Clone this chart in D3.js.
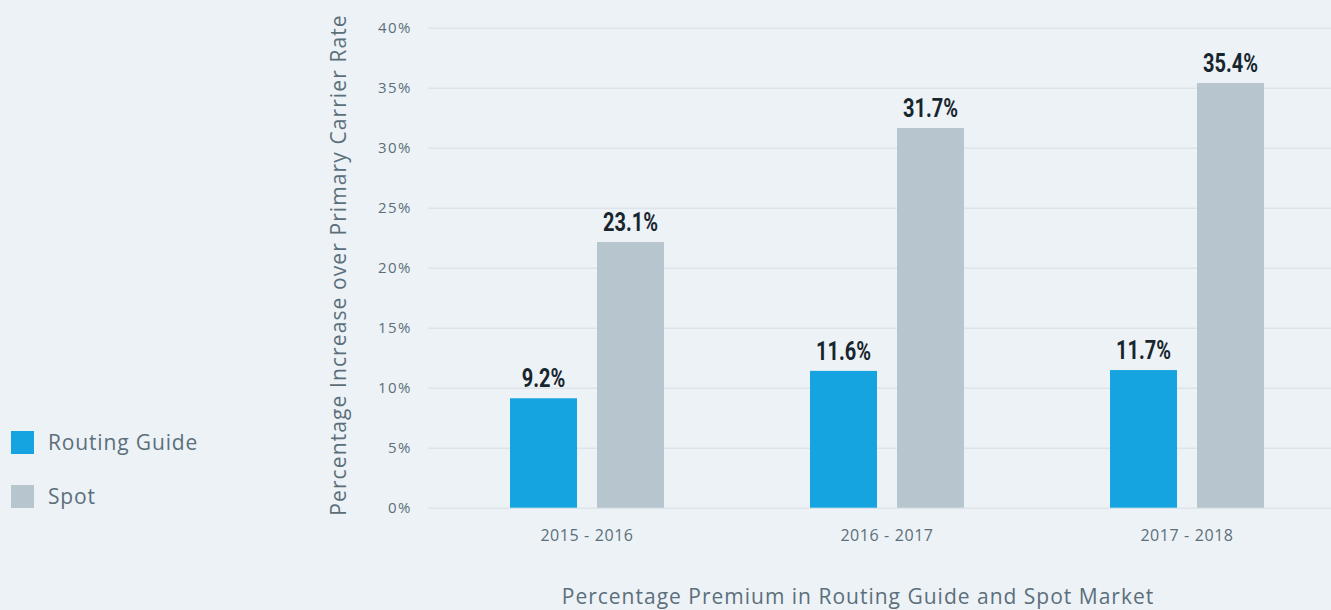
<!DOCTYPE html>
<html>
<head>
<meta charset="utf-8">
<script src="https://cdn.jsdelivr.net/npm/d3@7"></script>
<style>
  body { margin: 0; background: #edf2f6; }
  svg { display: block; }
  text { font-family: "Open Sans", "Noto Sans", sans-serif; fill: #5b6f7b; }
</style>
</head>
<body>
<div id="chart"></div>
<script>
// data
const periods = ["2015 - 2016", "2016 - 2017", "2017 - 2018"]
const seriesNames = ["Routing Guide", "Spot"]
const routingValues = [9.12, 11.4, 11.47]
const spotValues = [22.14, 31.64, 35.39]
const routingLabels = ["9.2%", "11.6%", "11.7%"]
const spotLabels = ["23.1%", "31.7%", "35.4%"]
const yTicks = [0, 5, 10, 15, 20, 25, 30, 35, 40]

const colors = { "Routing Guide": "#16a4e0", "Spot": "#b7c5ce" }

const width = 1331
const height = 610

var svg = d3.select("#chart").append("svg")
    .attr("width", width)
    .attr("height", height)

var y = d3.scaleLinear().domain([0, 40]).range([507.7, 27.7])
var x0 = d3.scaleBand().domain(periods).range([437, 1337]).padding(0)
var x1 = d3.scaleBand().domain(seriesNames).range([0, 154]).paddingInner(0.23)

// grid + y ticks
var yAxis = svg.append("g")
    .attr("transform", "translate(428,0)")
    .call(d3.axisLeft(y).tickValues(yTicks).tickSize(-(width - 428)).tickPadding(16)
        .tickFormat(d => d + "%"))
yAxis.select(".domain").remove()
yAxis.selectAll(".tick line").attr("stroke", "#d5dde3").attr("stroke-width", 1)
yAxis.selectAll(".tick text")
    .style("font-size", "15px")
    .style("font-family", "'Open Sans', sans-serif")
    .style("letter-spacing", "1.5px")
    .attr("fill", "#5b6f7b")

// bars
let rows = periods.map((p, i) => ({
    period: p,
    items: [
        { name: "Routing Guide", value: routingValues[i], label: routingLabels[i] },
        { name: "Spot", value: spotValues[i], label: spotLabels[i] }
    ]
}))

var groups = svg.selectAll(".grp")
    .data(rows)
    .enter().append("g")
    .attr("class", "grp")
    .attr("transform", d => "translate(" + (x0(d.period) + (x0.bandwidth() - 154) / 2) + ",0)")

groups.selectAll("rect")
    .data(d => d.items)
    .enter().append("rect")
    .attr("x", d => x1(d.name))
    .attr("y", d => y(d.value))
    .attr("width", x1.bandwidth())
    .attr("height", d => y(0) - y(d.value))
    .attr("fill", d => colors[d.name])

// condensed bold value labels (squeezed horizontally)
groups.selectAll(".val")
    .data(d => d.items)
    .enter().append("text")
    .attr("class", "val")
    .attr("transform", d => "translate(" + (x1(d.name) + x1.bandwidth() / 2) + "," + (y(d.value) - 11) + ") scale(0.8,1)")
    .attr("text-anchor", "middle")
    .style("font-family", "Roboto, sans-serif")
    .style("font-weight", "bold")
    .style("font-size", "25px")
    .style("fill", "#17262e")
    .text(d => d.label)

// category labels
svg.selectAll(".cat")
    .data(periods)
    .enter().append("text")
    .attr("class", "cat")
    .attr("x", d => x0(d) + x0.bandwidth() / 2)
    .attr("y", 541)
    .attr("text-anchor", "middle")
    .style("font-size", "16px")
    .style("letter-spacing", "0.6px")
    .text(d => d)

// axis titles
svg.append("text")
    .attr("transform", "translate(346,265) rotate(-90)")
    .attr("text-anchor", "middle")
    .style("font-size", "21px")
    .style("letter-spacing", "1.1px")
    .text("Percentage Increase over Primary Carrier Rate")

svg.append("text")
    .attr("x", 858)
    .attr("y", 604)
    .attr("text-anchor", "middle")
    .style("font-size", "21px")
    .style("letter-spacing", "1px")
    .text("Percentage Premium in Routing Guide and Spot Market")

// legend
var legend = svg.selectAll(".leg")
    .data(seriesNames)
    .enter().append("g")
    .attr("class", "leg")
    .attr("transform", (d, i) => "translate(11," + (431 + i * 54) + ")")

legend.append("rect")
    .attr("width", 23)
    .attr("height", 23)
    .attr("fill", d => colors[d])

legend.append("text")
    .attr("x", 37)
    .attr("y", 19)
    .style("font-size", "21px")
    .style("letter-spacing", "0.85px")
    .text(d => d)
</script>
</body>
</html>
